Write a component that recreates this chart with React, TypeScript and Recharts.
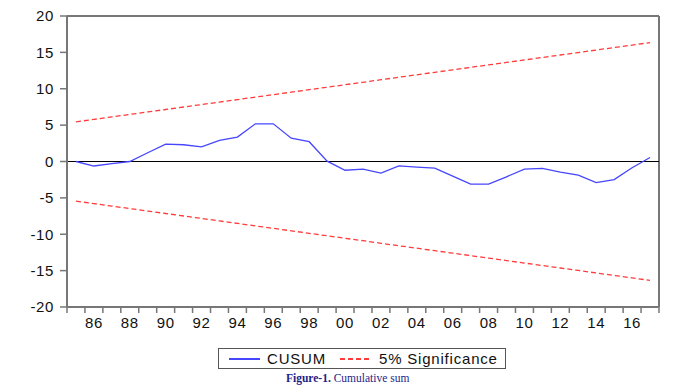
import React from "react";
import { LineChart, Line, XAxis, YAxis, ReferenceLine } from "recharts";

const years = [
  1985, 1986, 1987, 1988, 1989, 1990, 1991, 1992, 1993, 1994, 1995,
  1996, 1997, 1998, 1999, 2000, 2001, 2002, 2003, 2004, 2005, 2006,
  2007, 2008, 2009, 2010, 2011, 2012, 2013, 2014, 2015, 2016, 2017,
];

const cusum = [
  0.0, -0.62, -0.3, 0.0, 1.2, 2.38, 2.3, 2.0, 2.9, 3.35, 5.18,
  5.18, 3.2, 2.72, 0.05, -1.2, -1.06, -1.6, -0.6, -0.78, -0.92, -2.0,
  -3.12, -3.12, -2.1, -1.06, -0.95, -1.45, -1.88, -2.89, -2.48, -0.85, 0.55,
];

const upper5 = [
  5.45, 5.79, 6.13, 6.47, 6.81, 7.15, 7.49, 7.83, 8.17, 8.51, 8.85,
  9.19, 9.53, 9.87, 10.21, 10.55, 10.89, 11.24, 11.58, 11.92, 12.26, 12.6,
  12.94, 13.28, 13.62, 13.96, 14.3, 14.64, 14.98, 15.32, 15.66, 16.0, 16.34,
];

const lower5 = [
  -5.45, -5.79, -6.13, -6.47, -6.81, -7.15, -7.49, -7.83, -8.17, -8.51, -8.85,
  -9.19, -9.53, -9.87, -10.21, -10.55, -10.89, -11.24, -11.58, -11.92, -12.26, -12.6,
  -12.94, -13.28, -13.62, -13.96, -14.3, -14.64, -14.98, -15.32, -15.66, -16.0, -16.34,
];

const labelYears = [
  1986, 1988, 1990, 1992, 1994, 1996, 1998, 2000, 2002, 2004, 2006, 2008,
  2010, 2012, 2014, 2016,
];
const xTickLabels = [
  "86", "88", "90", "92", "94", "96", "98", "00", "02", "04", "06", "08",
  "10", "12", "14", "16",
];
const yTicks = [-20, -15, -10, -5, 0, 5, 10, 15, 20];

const data = years.map((y, i) => ({
  year: y,
  cusum: cusum[i],
  upper: upper5[i],
  lower: lower5[i],
}));

const halfTicks = [...years.map((y) => y - 0.5), years[years.length - 1] + 0.5];
const xTicks = [...halfTicks, ...labelYears].sort((a, b) => a - b);
const labelMap: Record<number, string> = {};
labelYears.forEach((y, i) => (labelMap[y] = xTickLabels[i]));

const FONT = "'Liberation Sans', Arial, sans-serif";
const AXIS = "#777777";
const X_TS = 6;
const X_TM = 4;

const XTick = (props: any) => {
  const { x, y, payload } = props;
  const v = payload.value as number;
  if (v % 1 !== 0) {
    return (
      <line
        x1={x}
        x2={x}
        y1={y - X_TM - X_TS}
        y2={y - X_TM}
        stroke={AXIS}
        strokeWidth={1.5}
      />
    );
  }
  return (
    <text
      x={x}
      y={y}
      dy="0.71em"
      textAnchor="middle"
      fontFamily={FONT}
      fontSize={15}
      letterSpacing={0.6}
      fill="#111"
    >
      {labelMap[v]}
    </text>
  );
};

export default function App() {
  return (
    <div style={{ position: "relative", width: 684, height: 383 }}>
      <LineChart
        width={684}
        height={383}
        data={data}
        margin={{ top: 8, right: 33, bottom: 54, left: 0 }}
      >
        <XAxis
          dataKey="year"
          type="number"
          domain={[1984.5, 2017.5]}
          ticks={xTicks}
          interval={0}
          tickLine={false}
          tickSize={X_TS}
          tickMargin={X_TM}
          tick={<XTick />}
          axisLine={{ stroke: AXIS, strokeWidth: 2 }}
          height={30}
          allowDataOverflow
        />
        <YAxis
          type="number"
          domain={[-20, 20]}
          ticks={yTicks}
          interval={0}
          width={59}
          tickSize={7}
          tickMargin={6}
          tickLine={{ stroke: AXIS, strokeWidth: 1.5 }}
          axisLine={{ stroke: AXIS, strokeWidth: 2 }}
          tick={{ fill: "#111", fontSize: 15, fontFamily: FONT, letterSpacing: 0.6 }}
          allowDataOverflow
        />
        <ReferenceLine y={20} stroke={AXIS} strokeWidth={2} />
        <ReferenceLine x={2017.5} stroke={AXIS} strokeWidth={2} />
        <ReferenceLine y={0} stroke="#000" strokeWidth={1} />
        <Line
          dataKey="upper"
          stroke="#ff3b3b"
          strokeWidth={1.3}
          strokeDasharray="5 3"
          dot={false}
          isAnimationActive={false}
        />
        <Line
          dataKey="lower"
          stroke="#ff3b3b"
          strokeWidth={1.3}
          strokeDasharray="5 3"
          dot={false}
          isAnimationActive={false}
        />
        <Line
          dataKey="cusum"
          stroke="#4646ff"
          strokeWidth={1.3}
          dot={false}
          isAnimationActive={false}
        />
      </LineChart>
      <div
        style={{
          position: "absolute",
          left: 210,
          top: 340,
          width: 288,
          height: 21,
          border: "1px solid #555",
          fontFamily: FONT,
          fontSize: 15,
          letterSpacing: 0.8,
          color: "#111",
          boxSizing: "border-box",
        }}
      >
        <svg width={300} height={20} style={{ position: "absolute", left: 0, top: 0 }}>
          <line x1={10} x2={41} y1={10} y2={10} stroke="#4646ff" strokeWidth={2} />
          <line x1={121} x2={153} y1={10} y2={10} stroke="#ff3b3b" strokeWidth={2} strokeDasharray="5 3" />
        </svg>
        <span style={{ position: "absolute", left: 48, top: 0, lineHeight: "19px" }}>CUSUM</span>
        <span style={{ position: "absolute", left: 160, top: 0, lineHeight: "19px" }}>5% Significance</span>
      </div>
      <div
        style={{
          position: "absolute",
          left: 278,
          top: 364,
          fontFamily: "'Liberation Serif', 'DejaVu Serif', serif",
          fontSize: 11.5,
          color: "#1e1e88",
          whiteSpace: "nowrap",
        }}
      >
        <b>Figure-1.</b> Cumulative sum
      </div>
    </div>
  );
}
